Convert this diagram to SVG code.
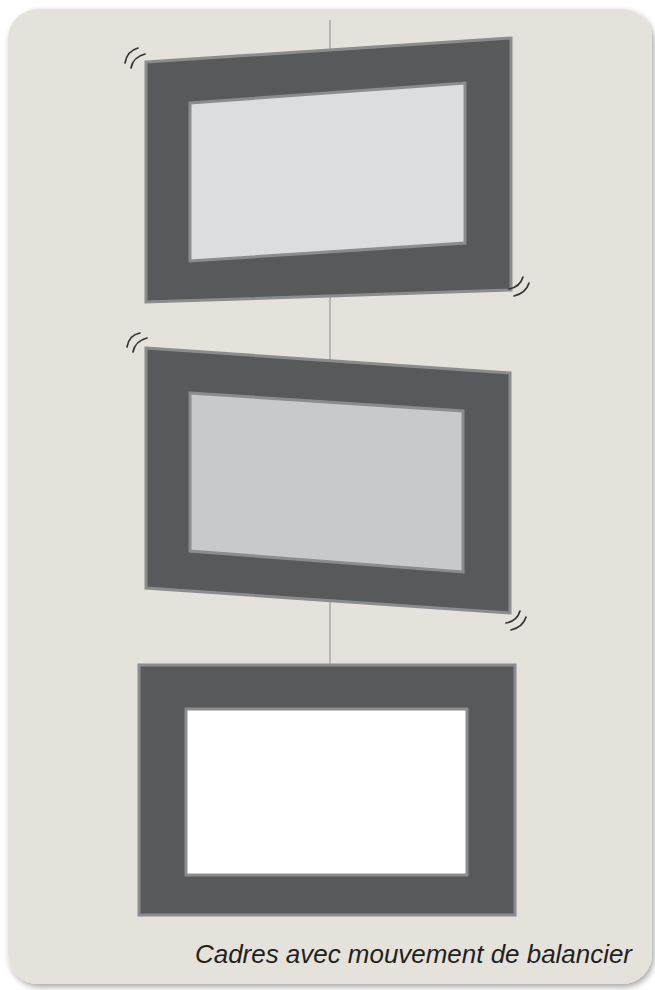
<svg xmlns="http://www.w3.org/2000/svg" width="655" height="990" viewBox="0 0 655 990">
<defs>
<filter id="sh" x="-5%" y="-5%" width="110%" height="110%">
<feGaussianBlur in="SourceAlpha" stdDeviation="3"/>
<feOffset dx="2" dy="3"/>
<feComponentTransfer><feFuncA type="linear" slope="0.35"/></feComponentTransfer>
<feMerge><feMergeNode/><feMergeNode in="SourceGraphic"/></feMerge>
</filter>
<style>
.frame{fill:#58595b;stroke:#8b8c8e;stroke-width:3;stroke-linejoin:miter}
.mat{stroke:#8b8c8e;stroke-width:3}
.sway{fill:none;stroke:#333;stroke-width:1.7;stroke-linecap:round}
.wire{stroke:#a7a7a7;stroke-width:1.5}
.cap{font-family:"Liberation Sans",Arial,sans-serif;font-style:italic;font-size:26px;fill:#231f20}
</style>
</defs>
<rect width="655" height="990" fill="#ffffff"/>
<rect x="8" y="9" width="644" height="975" rx="30" fill="#e5e2db" filter="url(#sh)"/>
<g id="connectors">
<line class="wire" x1="330" y1="20" x2="330" y2="665"/>
</g>
<g id="frame1">
<polygon class="frame" points="146,62 511,38 511,290 146,302"/>
<polygon class="mat" fill="#dcdddf" points="190,103 465,83 465,243 190,261"/>
<path class="sway" d="M125,63 Q127,51 138,48 M131,68 Q133,57 145,54"/>
<path class="sway" d="M509,289 Q520,287 523,277 M514,296 Q526,293 529,283"/>
</g>
<g id="frame2">
<polygon class="frame" points="146,348 510,373 510,613 146,588"/>
<polygon class="mat" fill="#c8c9cb" points="190,393 463,411 463,572 190,551"/>
<path class="sway" d="M127,347 Q129,335 140,333 M133,352 Q135,341 147,338"/>
<path class="sway" d="M506,623 Q517,621 520,611 M511,630 Q523,627 526,617"/>
</g>
<g id="frame3">
<rect class="frame" x="139" y="665" width="376" height="250"/>
<rect class="mat" fill="#ffffff" x="186" y="709" width="281" height="166"/>
</g>
<text class="cap" x="195" y="963" textLength="437" lengthAdjust="spacingAndGlyphs">Cadres avec mouvement de balancier</text>
</svg>
